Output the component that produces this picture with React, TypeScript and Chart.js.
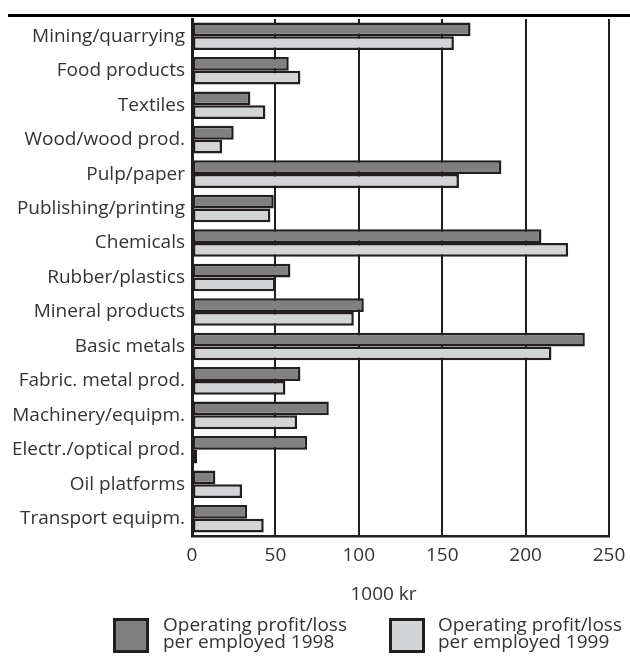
import React, { useEffect, useRef } from "react";
import { Chart, registerables } from "chart.js";

Chart.register(...registerables);

const categories = [
  "Mining/quarrying",
  "Food products",
  "Textiles",
  "Wood/wood prod.",
  "Pulp/paper",
  "Publishing/printing",
  "Chemicals",
  "Rubber/plastics",
  "Mineral products",
  "Basic metals",
  "Fabric. metal prod.",
  "Machinery/equipm.",
  "Electr./optical prod.",
  "Oil platforms",
  "Transport equipm.",
];

const values1998 = [167, 58, 35, 25, 185.5, 49, 209.5, 59, 103, 235.5, 65, 82, 69, 14, 33];
const values1999 = [157, 65, 44, 18, 160, 47, 225.5, 50, 97, 215.5, 56, 63, 3, 30, 43];

const xTicks = [0, 50, 100, 150, 200, 250];
const axisTitle = "1000 kr";
const legendLabels = [
  ["Operating profit/loss", "per employed 1998"],
  ["Operating profit/loss", "per employed 1999"],
];

const INK = "#231f20";
const TEXT = "#333333";
const DARK = "#808080";
const LIGHT = "#d3d4d6";
const FONT = "'Open Sans', 'Noto Sans', sans-serif";

const decorPlugin = {
  id: "decor",
  afterDraw(chart: any) {
    const ctx = chart.ctx;
    ctx.save();
    // top rule
    ctx.fillStyle = "#000";
    ctx.fillRect(8, 14, 622, 3);

    // axis title
    ctx.fillStyle = TEXT;
    ctx.font = `19px ${FONT}`;
    ctx.textAlign = "center";
    ctx.textBaseline = "alphabetic";
    const xs = chart.scales.x;
    ctx.fillText(axisTitle, (xs.left + xs.right) / 2 - 17, 600);

    // legend
    const boxes = [
      { x: 113, fill: DARK, tx: 163 },
      { x: 389, fill: LIGHT, tx: 438 },
    ];
    boxes.forEach((b, i) => {
      ctx.fillStyle = INK;
      ctx.fillRect(b.x, 618, 36, 35);
      ctx.fillStyle = b.fill;
      ctx.fillRect(b.x + 3, 621, 30, 29);
      ctx.fillStyle = TEXT;
      ctx.textAlign = "left";
      ctx.font = `19px ${FONT}`;
      ctx.fillText(legendLabels[i][0], b.tx, 631);
      ctx.fillText(legendLabels[i][1], b.tx, 648);
    });
    ctx.restore();
  },
};

export default function App() {
  const ref = useRef<HTMLCanvasElement | null>(null);

  useEffect(() => {
    if (!ref.current) return;
    const chart = new Chart(ref.current, {
      type: "bar",
      data: {
        labels: categories,
        datasets: [
          {
            label: legendLabels[0].join(" "),
            data: values1998,
            backgroundColor: DARK,
            borderColor: INK,
            borderWidth: 2.5,
            borderSkipped: false,
            categoryPercentage: 0.8,
            barPercentage: 1.0,
          },
          {
            label: legendLabels[1].join(" "),
            data: values1999,
            backgroundColor: LIGHT,
            borderColor: INK,
            borderWidth: 2.5,
            borderSkipped: false,
            categoryPercentage: 0.8,
            barPercentage: 1.0,
          },
        ],
      },
      options: {
        indexAxis: "y",
        responsive: false,
        animation: false,
        devicePixelRatio: 1,
        layout: { padding: { top: 19, right: 21, left: 0, bottom: 0 } },
        plugins: {
          legend: { display: false },
          tooltip: { enabled: false },
          title: { display: false },
        },
        scales: {
          x: {
            type: "linear",
            min: 0,
            max: 250,
            afterBuildTicks(scale: any) {
              scale.ticks = xTicks.map((v) => ({ value: v }));
            },
            afterFit(scale: any) {
              scale.height = 121;
              scale.paddingRight = 0;
              scale.paddingLeft = 0;
            },
            ticks: {
              color: TEXT,
              font: { family: FONT, size: 19 },
              padding: 8,
            },
            grid: {
              color: INK,
              lineWidth: 2,
              drawTicks: false,
            },
            border: { color: INK, width: 2.5 },
          },
          y: {
            type: "category",
            afterFit(scale: any) {
              scale.width = 192;
            },
            ticks: {
              color: TEXT,
              font: { family: FONT, size: 19 },
              padding: 7,
              autoSkip: false,
            },
            grid: { display: false, drawTicks: false },
            border: { color: INK, width: 3 },
          },
        },
      },
      plugins: [decorPlugin],
    } as any);
    return () => chart.destroy();
  }, []);

  return (
    <div style={{ position: "absolute", left: 0, top: 0, width: 630, height: 657, background: "#fff" }}>
      <canvas ref={ref} width={630} height={657} style={{ display: "block" }} />
    </div>
  );
}
